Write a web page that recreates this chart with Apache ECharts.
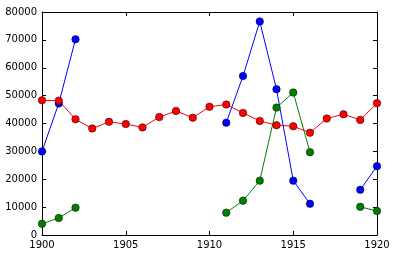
<!DOCTYPE html>
<html><head><meta charset="utf-8">
<script src="https://cdn.jsdelivr.net/npm/echarts@6/dist/echarts.min.js"></script>
<style>html,body{margin:0;padding:0;background:#fff}#c{width:395px;height:256px}</style>
</head><body><div id="c"></div>
<script>
const years = [1900,1901,1902,1903,1904,1905,1906,1907,1908,1909,1910,1911,1912,1913,1914,1915,1916,1917,1918,1919,1920];
const hares = [30000,47200,70200,null,null,null,null,null,null,null,null,40300,57000,76600,52300,19500,11200,null,null,16200,24700];
const lynxes = [4000,6100,9800,null,null,null,null,null,null,null,null,8000,12300,19500,45700,51100,29700,null,null,10100,8600];
const carrots = [48300,48200,41500,38200,40600,39800,38600,42300,44500,42100,46000,46800,43800,40900,39400,39000,36700,41800,43300,41300,47300];
const xTicks = [1900,1905,1910,1915,1920];
const yTicks = [0,10000,20000,30000,40000,50000,60000,70000,80000];

function pairs(vals){ return years.map((y,i)=>[y, vals[i]===null ? '-' : vals[i]]); }
function ser(name, vals, color){
  return {name, type:'line', data:pairs(vals), connectNulls:false, symbol:'circle', symbolSize:7.5,
    lineStyle:{color, width:1}, itemStyle:{color, borderColor:'#000', borderWidth:0.5},
    emphasis:{disabled:true}, animation:false, xAxisIndex:0, yAxisIndex:0};
}
const font = {fontFamily:'DejaVu Sans', fontSize:10, color:'#000', formatter:(v)=>String(v)};
const axLine = {show:true, onZero:false, lineStyle:{color:'#000', width:1}};
const tick = {show:true, inside:true, length:4, lineStyle:{color:'#000', width:1}};
const chart = echarts.init(document.getElementById('c'), null, {renderer:'canvas'});
chart.setOption({
  animation:false,
  grid:{left:42, right:18, top:12, bottom:21, containLabel:false},
  xAxis:[
    {type:'value', min:1900, max:1920, interval:5, position:'bottom', axisLine:axLine, axisTick:tick,
     splitLine:{show:false}, axisLabel:Object.assign({margin:5}, font)},
    {type:'value', min:1900, max:1920, interval:5, position:'top', axisLine:axLine, axisTick:tick,
     splitLine:{show:false}, axisLabel:{show:false}}
  ],
  yAxis:[
    {type:'value', min:0, max:80000, interval:10000, position:'left', axisLine:axLine, axisTick:tick,
     splitLine:{show:false}, axisLabel:Object.assign({margin:5}, font)},
    {type:'value', min:0, max:80000, interval:10000, position:'right', axisLine:axLine, axisTick:tick,
     splitLine:{show:false}, axisLabel:{show:false}}
  ],
  series:[ser('hares', hares, '#0000ff'), ser('lynxes', lynxes, '#008000'), ser('carrots', carrots, '#ff0000')]
});
</script></body></html>
